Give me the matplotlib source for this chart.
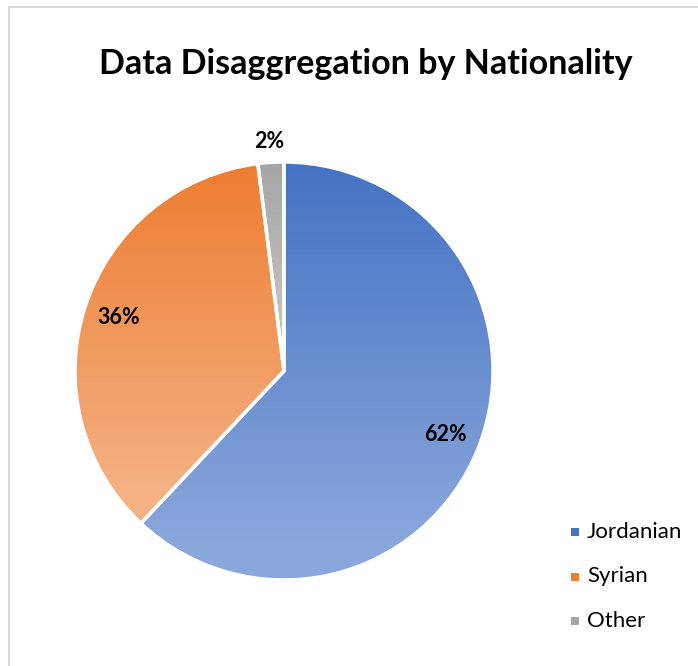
import numpy as np
import matplotlib.pyplot as plt
import matplotlib.colors as mcolors
from matplotlib.patches import Rectangle

# nationality breakdown
labels = ["Jordanian", "Syrian", "Other"]
shares = [62, 36, 2]
top_colours = ["#4472C4", "#ED7D31", "#A5A5A5"]
bottom_colours = ["#8AA7DB", "#F4B183", "#C9C9C9"]

W, H = 698, 666
fig = plt.figure(figsize=(W / 100, H / 100), dpi=100)
ax = fig.add_axes([0, 0, 1, 1])
ax.set_xlim(0, W)
ax.set_ylim(0, H)
ax.axis("off")

# chart frame, runs off the right and bottom edges
ax.add_patch(Rectangle((9, -5), W, H - 7 + 5, fill=False, edgecolor="#D9D9D9", lw=1.5))

cx, cy, r = 284, H - 371, 209
wedges, texts, autotexts = ax.pie(
    shares, center=(cx, cy), radius=r, startangle=90, counterclock=False,
    autopct="%1.0f%%", pctdistance=0.83,
    wedgeprops=dict(edgecolor="white", linewidth=2.5),
    textprops=dict(fontsize=15.5, fontweight="bold", family="Lato", color="black"))
ax.set_xlim(0, W)
ax.set_ylim(0, H)
ax.set_aspect("equal")

# vertical light gradient for each slice, clipped to the wedge
for w, c_top, c_bot in zip(wedges, top_colours, bottom_colours):
    th = np.radians(np.linspace(w.theta1, w.theta2, 200))
    ys = np.concatenate([[cy], cy + r * np.sin(th)])
    xs = np.concatenate([[cx], cx + r * np.cos(th)])
    y0, y1 = ys.min(), ys.max()
    t = np.clip(np.linspace(0, 1.1, 256), 0, 1)[:, None]
    a = np.array(mcolors.to_rgb(c_top))
    b = np.array(mcolors.to_rgb(c_bot))
    grad = (a * (1 - t[..., None]) + b * t[..., None])
    img = ax.imshow(grad, extent=(xs.min(), xs.max(), y0, y1), origin="upper",
                    aspect="auto", zorder=w.get_zorder() - 0.1)
    img.set_clip_path(w)
    w.set_facecolor("none")

# small slice label sits outside the pie
w = wedges[2]
mid = np.radians((w.theta1 + w.theta2) / 2)
autotexts[2].set_position((cx + 1.1 * r * np.cos(mid), cy + 1.1 * r * np.sin(mid)))
for t in autotexts:
    t.set_zorder(5)

ax.text(366, H - 64, "Data Disaggregation by Nationality", ha="center", va="center",
        fontsize=24.5, fontweight="bold", family="Lato")

# legend
for i, (lab, c_top, c_bot) in enumerate(zip(labels, top_colours, bottom_colours)):
    y = H - (532 + 44.5 * i)
    ax.add_patch(Rectangle((571, y - 4), 8, 8, color=c_top, lw=0))
    ax.text(587, y, lab, ha="left", va="center", fontsize=16, family="Lato")

fig.savefig("out.png", dpi=100)
